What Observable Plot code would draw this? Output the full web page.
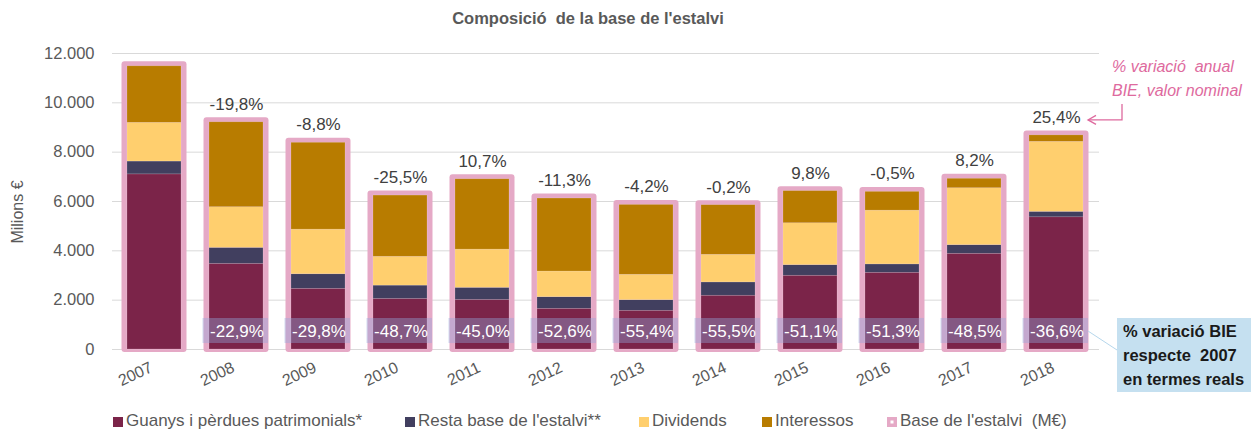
<!DOCTYPE html>
<html>
<head>
<meta charset="utf-8">
<script src="https://cdn.jsdelivr.net/npm/d3@7"></script>
<script src="https://cdn.jsdelivr.net/npm/@observablehq/plot@0.6"></script>
<style>
  html, body { margin: 0; padding: 0; background: #fff; }
  #chart { position: relative; width: 1251px; height: 432px; }
</style>
</head>
<body>
<div id="chart"></div>
<script>
const years = ["2007","2008","2009","2010","2011","2012","2013","2014","2015","2016","2017","2018"];
const guanys     = [7100, 3470, 2460, 2050, 2010, 1650, 1570, 2180, 2990, 3110, 3880, 5360];
const resta      = [ 520,  650,  590,  540,  490,  470,  430,  540,  430,  340,  350,  220];
const dividends  = [1570, 1650, 1810, 1170, 1550, 1040, 1030, 1120, 1700, 2180, 2310, 2840];
const interessos = [2290, 3440, 3520, 2480, 2850, 2960, 2830, 2010, 1300,  760,  380,  260];
const nominalChange = [null,"-19,8%","-8,8%","-25,5%","10,7%","-11,3%","-4,2%","-0,2%","9,8%","-0,5%","8,2%","25,4%"];
const realChange    = [null,"-22,9%","-29,8%","-48,7%","-45,0%","-52,6%","-55,4%","-55,5%","-51,1%","-51,3%","-48,5%","-36,6%"];
const yTicks = [0, 2000, 4000, 6000, 8000, 10000, 12000];
const seriesNames = ["Guanys i pèrdues patrimonials*", "Resta base de l'estalvi**", "Dividends", "Interessos"];
const totalName = "Base de l'estalvi  (M€)";
const titleText = "Composició  de la base de l'estalvi";
const yLabel = "Milions €";
const noteNominal = ["% variació  anual", "BIE, valor nominal"];
const noteReal = ["% variació BIE", "respecte  2007", "en termes reals"];

const colors = ["#7B2449", "#413F5F", "#FFCF6E", "#B87C00"];
const pink = "#E5A9C6";

const seriesValues = [guanys, resta, dividends, interessos];
const long = [];
years.forEach((yr, i) => seriesNames.forEach((s, k) => long.push({year: yr, series: s, value: seriesValues[k][i]})));
const totals = years.map((yr, i) => ({
  year: yr,
  total: guanys[i] + resta[i] + dividends[i] + interessos[i],
  nominal: nominalChange[i],
  real: realChange[i]
}));
const withChange = totals.filter(d => d.real != null);

const font = "'Liberation Sans', Arial, sans-serif";

const plot = Plot.plot({
  width: 1251,
  height: 432,
  marginTop: 53,
  marginBottom: 83,
  marginLeft: 112,
  marginRight: 152,
  style: {fontFamily: font, color: "#595959", background: "#fff", overflow: "visible"},
  x: {domain: years, paddingInner: 0.34, paddingOuter: 0.17, label: null},
  y: {domain: [0, 12000], label: null},
  color: {domain: seriesNames, range: colors},
  marks: [
    Plot.ruleY(yTicks, {stroke: "#d9d9d9", strokeWidth: 1}),
    Plot.barY(totals, {x: "year", y: "total", fill: pink, insetLeft: -5.5, insetRight: -5.5, insetTop: -4.5, insetBottom: -3, rx: 3}),
    Plot.barY(long, {x: "year", y: "value", fill: "series", stroke: "#ffffff", strokeOpacity: 0.25, strokeWidth: 0.6}),
    Plot.text(withChange, {x: "year", y: "total", text: "nominal", dy: -18, fontSize: 17, fill: "#404040"}),
    Plot.barY(withChange, {x: "year", y1: () => 243, y2: () => 1257, fill: "#93a8dc", fillOpacity: 0.4, insetLeft: -6.5, insetRight: -5}),
    Plot.text(withChange, {x: "year", y: () => 0, text: "real", dy: -18, dx: 0.5, fontSize: 17, fill: "#ffffff"}),
    Plot.axisY({ticks: yTicks, tickSize: 0, tickPadding: 18, fontSize: 16.5, tickFormat: d => d3.format(",")(d).replace(/,/g, "."), label: null}),
    Plot.axisX({tickSize: 0, tickRotate: -25, tickPadding: 17, dx: -3, fontSize: 16, label: null})
  ]
});

document.getElementById("chart").appendChild(plot);

const svg = d3.select(plot);
const xs = plot.scale("x");
const ys = plot.scale("y");
const bw = xs.bandwidth;

// Title
svg.append("text").attr("x", 588).attr("y", 20).attr("text-anchor", "middle").attr("dominant-baseline", "middle")
  .attr("font-family", font).attr("font-weight", "bold").attr("font-size", 16.5).attr("fill", "#595959").text(titleText);

// Y label
svg.append("text").attr("transform", "translate(19,212) rotate(-90)").attr("text-anchor", "middle").attr("dominant-baseline", "middle")
  .attr("font-family", font).attr("font-size", 16).attr("fill", "#595959").text(yLabel);

// Nominal change note
const last = totals[totals.length - 1];
const cx = xs.apply(last.year) + bw / 2;
const ly = ys.apply(last.total) - 18;
const noteColor = "#DE6A9E";
noteNominal.forEach((t, i) => {
  svg.append("text").attr("x", 1112).attr("y", 68 + i * 24).attr("dominant-baseline", "middle").attr("text-anchor", "start")
    .attr("font-family", font).attr("font-style", "italic").attr("font-size", 16).attr("fill", noteColor).text(t);
});
const ax = cx + 66, ay = ly + 3, hx = cx + 32;
svg.append("path").attr("d", `M${ax},${ay - 16}V${ay}H${hx}`).attr("fill", "none").attr("stroke", noteColor).attr("stroke-width", 1.3);
svg.append("path").attr("d", `M${hx + 8},${ay - 4.5}L${hx},${ay}L${hx + 8},${ay + 4.5}`).attr("fill", "none").attr("stroke", noteColor).attr("stroke-width", 1.3);

// Real change note box
const boxX = 1117, boxY = 318;
const by0 = ys.apply(0) - 18;
svg.append("line").attr("x1", xs.apply(last.year) + bw + 5).attr("y1", by0).attr("x2", boxX).attr("y2", boxY + 32)
  .attr("stroke", "#b6d7ec").attr("stroke-width", 1);
svg.append("rect").attr("x", boxX).attr("y", boxY).attr("width", 1251 - boxX).attr("height", 74).attr("fill", "#C5E0F0");
noteReal.forEach((t, i) => {
  svg.append("text").attr("x", boxX + 6).attr("y", boxY + 15 + i * 24).attr("dominant-baseline", "middle").attr("text-anchor", "start")
    .attr("font-family", font).attr("font-weight", "bold").attr("font-size", 16.5).attr("fill", "#1a1a1a").text(t);
});

// Legend
const legendY = 422;
const legendX = [113, 405, 639, 762, 887];
const legendItems = seriesNames.map((s, i) => ({name: s, color: colors[i]})).concat([{name: totalName, color: pink, dot: true}]);
legendItems.forEach((it, i) => {
  const g = svg.append("g").attr("transform", `translate(${legendX[i]},${legendY})`);
  g.append("rect").attr("x", 0).attr("y", -5).attr("width", 10).attr("height", 10).attr("fill", it.color);
  if (it.dot) g.append("rect").attr("x", 3.5).attr("y", -1.5).attr("width", 3).attr("height", 3).attr("fill", "#fff");
  g.append("text").attr("x", 13).attr("y", 0).attr("dominant-baseline", "middle").attr("text-anchor", "start")
    .attr("font-family", font).attr("font-size", 17).attr("fill", "#595959").text(it.name);
});
</script>
</body>
</html>
